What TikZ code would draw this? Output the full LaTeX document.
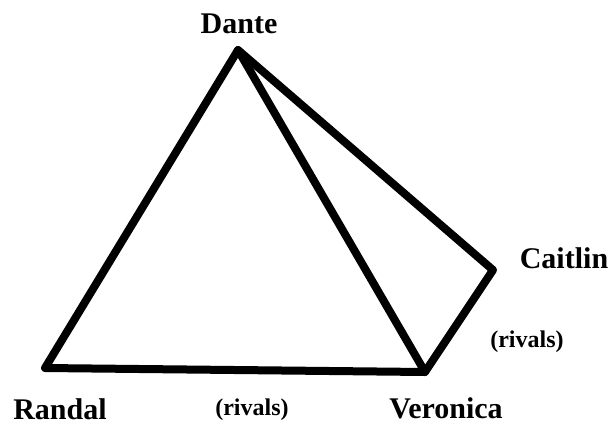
\documentclass[tikz,border=0pt]{standalone}
\usepackage{fontspec}
\setmainfont{Liberation Serif}
\begin{document}
\begin{tikzpicture} [x=1pt,y=-1pt,
  tie/.style={line width = 8pt, line join=round, line cap=round},
  who/.style={font=\bfseries\fontsize{30}{30}\selectfont, inner sep=0pt},
  rel/.style={font=\bfseries\fontsize{24}{24}\selectfont, inner sep=0pt}]%love triangle
\useasboundingbox (0,0) rectangle (613,424);

\coordinate (d) at (238,50);
\coordinate (r) at (45,368);
\coordinate (v) at (425,372);
\coordinate (c) at (493,270);

\draw [tie] (r) -- (d) -- (v) -- cycle;
\draw [tie] (d) -- (c) -- (v);

\node [who] (dante) at (239,24) {Dante};
\node [who] (randal) at (60,409) {Randal};
\node [who] (veronica) at (446,408) {Veronica};
\node [who] (caitlin) at (564,258) {Caitlin};
\node [rel] (rv) at (252,410) {(rivals)};
\node [rel] (cv) at (527,342) {(rivals)};
\end{tikzpicture}
\end{document}
